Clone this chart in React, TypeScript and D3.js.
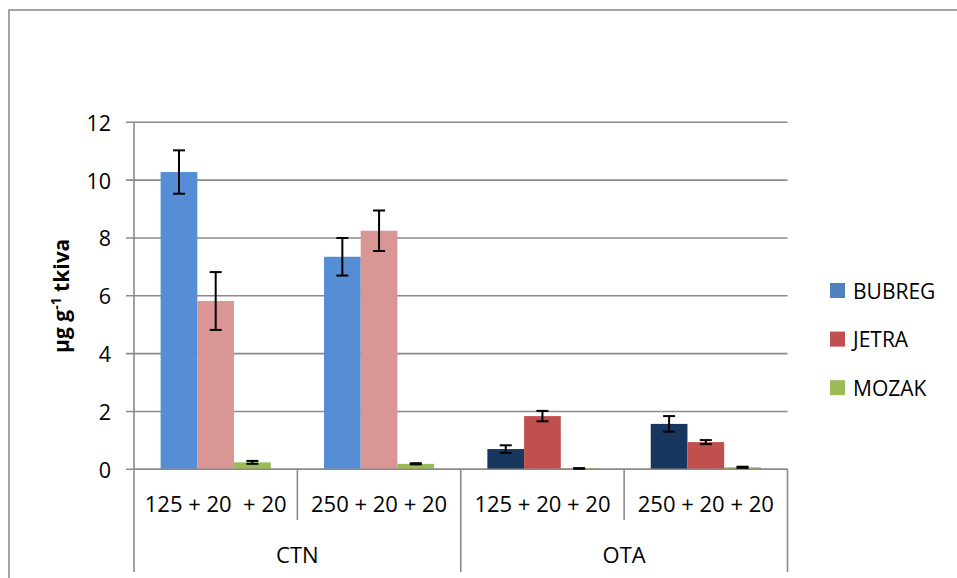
import React from "react";
import * as d3 from "d3";

const categories = ["125 + 20  + 20", "250 + 20 + 20", "125 + 20 + 20", "250 + 20 + 20"];
const groups = ["CTN", "OTA"];
const seriesNames = ["BUBREG", "JETRA", "MOZAK"];
const bubreg = [10.28, 7.35, 0.7, 1.57];
const bubregErr = [0.75, 0.65, 0.13, 0.27];
const jetra = [5.82, 8.25, 1.84, 0.94];
const jetraErr = [1.0, 0.7, 0.18, 0.07];
const mozak = [0.24, 0.19, 0.03, 0.07];
const mozakErr = [0.05, 0.02, 0.01, 0.02];
const yTicks = [0, 2, 4, 6, 8, 10, 12];

const bubregColors = ["#558ED5", "#558ED5", "#17375E", "#17375E"];
const jetraColors = ["#D99694", "#D99694", "#C0504D", "#C0504D"];
const mozakColors = ["#9BBB59", "#9BBB59", "#9BBB59", "#9BBB59"];
const legendColors = ["#4F81BD", "#C0504D", "#9BBB59"];

const W = 957;
const H = 578;
const FONT = "'Open Sans', 'Liberation Sans', sans-serif";
const GRID = "#8a8a8a";

export default function App() {
  const left = 134;
  const right = 787.5;
  const top = 122.3;
  const bottom = 469.3;

  const x = d3.scaleBand<number>().domain(d3.range(categories.length)).range([left, right]).padding(0);
  const inner = d3
    .scaleBand<number>()
    .domain(d3.range(seriesNames.length))
    .range([0, x.bandwidth()])
    .paddingInner(0)
    .paddingOuter(0.725);
  const y = d3.scaleLinear().domain([0, 12]).range([bottom, top]);

  const series = [
    { vals: bubreg, errs: bubregErr, colors: bubregColors },
    { vals: jetra, errs: jetraErr, colors: jetraColors },
    { vals: mozak, errs: mozakErr, colors: mozakColors },
  ];

  const groupX = d3.scaleBand<number>().domain(d3.range(groups.length)).range([left, right]).padding(0);

  return (
    <svg
      width={W}
      height={H}
      style={{ position: "absolute", left: 0, top: 0, background: "#fff" }}
      fontFamily={FONT}
    >
      <rect x={0} y={0} width={W} height={H} fill="#fff" />
      {/* outer chart border */}
      <rect x={9} y={10} width={1000} height={700} fill="none" stroke="#868686" strokeWidth={1.5} />

      {/* gridlines and y ticks */}
      {yTicks.map((t) => (
        <g key={t}>
          <line x1={left - 8} x2={right} y1={y(t)} y2={y(t)} stroke={GRID} strokeWidth={1.6} />
          <text x={111} y={y(t)} textAnchor="end" dominantBaseline="central" fontSize={21.5} fill="#000">
            {t}
          </text>
        </g>
      ))}
      {/* y axis */}
      <line x1={left} x2={left} y1={top} y2={bottom} stroke={GRID} strokeWidth={1.6} />

      {/* bars */}
      {series.map((s, si) =>
        s.vals.map((v, ci) => {
          const bx = (x(ci) as number) + (inner(si) as number);
          const bw = inner.bandwidth();
          return (
            <rect key={`b${si}-${ci}`} x={bx} y={y(v)} width={bw} height={y(0) - y(v)} fill={s.colors[ci]} />
          );
        })
      )}

      {/* baseline */}
      <line x1={left} x2={right} y1={bottom} y2={bottom} stroke={GRID} strokeWidth={1.6} />

      {/* error bars */}
      {series.map((s, si) =>
        s.vals.map((v, ci) => {
          const cx = (x(ci) as number) + (inner(si) as number) + inner.bandwidth() / 2;
          const hi = y(v + s.errs[ci]);
          const lo = y(Math.max(0, v - s.errs[ci]));
          return (
            <g key={`e${si}-${ci}`} stroke="#000" strokeWidth={2}>
              <line x1={cx} x2={cx} y1={hi} y2={lo} />
              <line x1={cx - 6} x2={cx + 6} y1={hi} y2={hi} />
              <line x1={cx - 6} x2={cx + 6} y1={lo} y2={lo} />
            </g>
          );
        })
      )}

      {/* category dividers */}
      {d3.range(categories.length + 1).map((i) => {
        const xx = i === categories.length ? right : (x(i) as number);
        const full = i % 2 === 0;
        return (
          <line key={`d${i}`} x1={xx} x2={xx} y1={bottom} y2={full ? 572 : 520} stroke={GRID} strokeWidth={1.6} />
        );
      })}

      {/* category labels */}
      {categories.map((c, i) => (
        <text
          key={`c${i}`}
          x={(x(i) as number) + x.bandwidth() / 2}
          y={512}
          textAnchor="middle"
          fontSize={22}
          fill="#000"
          style={{ whiteSpace: "pre" }}
        >
          {c}
        </text>
      ))}
      {groups.map((g, i) => (
        <text key={`g${i}`} x={(groupX(i) as number) + groupX.bandwidth() / 2} y={563} textAnchor="middle" fontSize={22} fill="#000">
          {g}
        </text>
      ))}

      {/* y axis title */}
      <text transform={`translate(69, ${(top + bottom) / 2}) rotate(-90)`} textAnchor="middle" fontSize={21} fontWeight="bold" fill="#000">
        <tspan>µg g</tspan>
        <tspan dy={-8} fontSize={14}>-1</tspan>
        <tspan dy={8}> tkiva</tspan>
      </text>

      {/* legend */}
      {seriesNames.map((n, i) => (
        <g key={n} transform={`translate(830, ${283 + i * 48.6})`}>
          <rect x={0} y={0} width={15} height={15} fill={legendColors[i]} />
          <text x={23} y={7.5} dominantBaseline="central" fontSize={21} fill="#000">
            {n}
          </text>
        </g>
      ))}
    </svg>
  );
}
